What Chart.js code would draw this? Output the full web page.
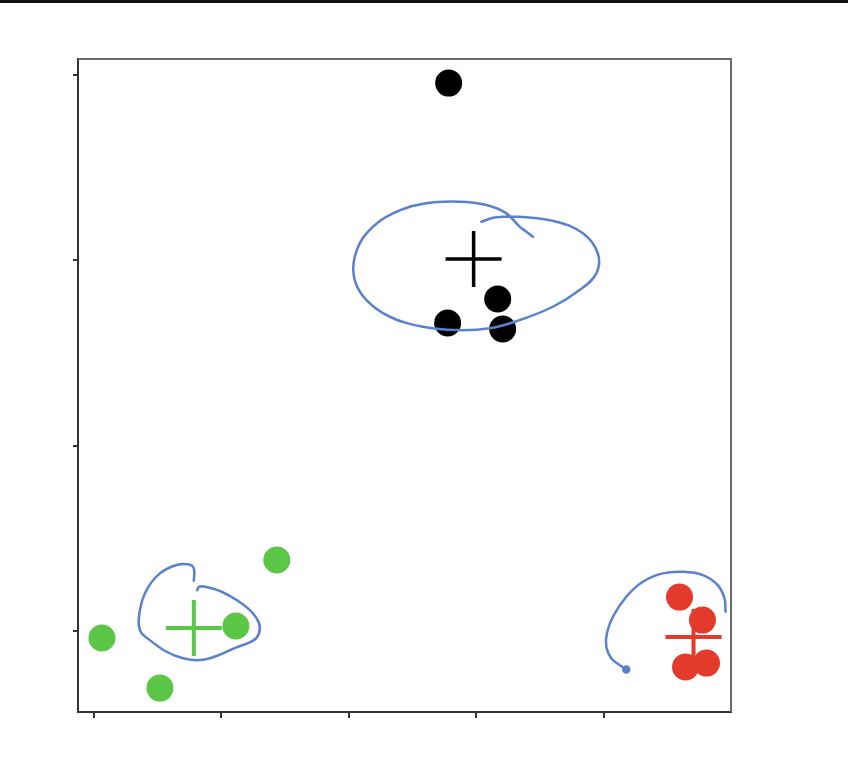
<!DOCTYPE html>
<html>
<head>
<meta charset="utf-8">
<script src="https://cdn.jsdelivr.net/npm/chart.js@4/dist/chart.umd.min.js"></script>
<style>
  html, body { margin: 0; padding: 0; background: #fff; }
  #wrap { position: relative; width: 848px; height: 774px; }
  #topbar { position: absolute; left: 0; top: 0; width: 848px; height: 3px; background: #111; }
  canvas { position: absolute; left: 0; top: 0; }
</style>
</head>
<body>
<div id="wrap">
  <canvas id="c" width="848" height="774"></canvas>
  <div id="topbar"></div>
</div>
<script>
// ---- data ----
const xTicks = [0, 1, 2, 3, 4];
const yTicks = [0, 1, 2, 3];

const blackX = [2.784, 3.169, 2.776, 3.208];
const blackY = [2.957, 1.792, 1.662, 1.630];
const greenX = [0.063, 0.518, 1.114, 1.435];
const greenY = [-0.038, -0.308, 0.027, 0.383];
const redX = [4.596, 4.776, 4.643, 4.808];
const redY = [0.183, 0.059, -0.194, -0.173];

const centroidX = [2.980, 0.784, 4.706];
const centroidY = [2.008, 0.016, -0.032];

// hand-drawn annotation strokes (data coordinates)
const loopBlackX = [3.041, 3.158, 3.394, 3.629, 3.838, 3.955, 3.943, 3.812, 3.602, 3.341, 3.106, 2.845, 2.583, 2.322, 2.139, 2.047, 2.047, 2.139, 2.347, 2.609, 2.871, 3.080, 3.237, 3.341, 3.394, 3.446];
const loopBlackY = [2.209, 2.233, 2.233, 2.209, 2.146, 2.038, 1.930, 1.840, 1.750, 1.678, 1.634, 1.624, 1.642, 1.696, 1.786, 1.894, 2.020, 2.146, 2.254, 2.308, 2.317, 2.299, 2.254, 2.182, 2.155, 2.128];
const loopGreenX = [0.784, 0.784, 0.740, 0.649, 0.518, 0.413, 0.361, 0.361, 0.439, 0.570, 0.700, 0.831, 0.962, 1.119, 1.249, 1.296, 1.296, 1.237, 1.132, 1.002, 0.871, 0.826, 0.810];
const loopGreenY = [0.271, 0.338, 0.360, 0.356, 0.311, 0.221, 0.113, 0.005, -0.049, -0.112, -0.147, -0.157, -0.135, -0.088, -0.052, -0.012, 0.042, 0.104, 0.162, 0.212, 0.239, 0.239, 0.221];
const arcRedX = [4.178, 4.125, 4.060, 4.021, 4.026, 4.073, 4.178, 4.308, 4.465, 4.622, 4.779, 4.896, 4.949, 4.957];
const arcRedY = [-0.207, -0.183, -0.147, -0.085, -0.012, 0.077, 0.185, 0.266, 0.311, 0.320, 0.302, 0.248, 0.176, 0.104];

const xMin = -0.125, xMax = 5.0;
const yMin = -0.437, yMax = 3.087;

// ---- colours ----
const BLACK = '#000000';
const GREEN = '#5cc646';
const RED = '#e43a2b';
const BLUE = '#5b80cc';

function pts(xs, ys) { return xs.map((x, i) => ({ x: x, y: ys[i] })); }

const pointSet = (xs, ys, color) => ({
  type: 'scatter', data: pts(xs, ys), order: 2,
  pointRadius: 13.5, pointHoverRadius: 13.5,
  backgroundColor: color, borderColor: color, borderWidth: 0, showLine: false
});
const centroidSet = (i, color, w) => ({
  type: 'scatter', data: [{ x: centroidX[i], y: centroidY[i] }], order: 1,
  pointStyle: 'cross', pointRadius: 28, pointHoverRadius: 28,
  borderColor: color, backgroundColor: color, pointBorderWidth: w, borderWidth: w, showLine: false
});
const strokeSet = (xs, ys, radii) => ({
  type: 'scatter', data: pts(xs, ys), order: 0, showLine: true,
  borderColor: BLUE, backgroundColor: BLUE, borderWidth: 2.5, tension: 0.4,
  pointRadius: radii || 0, pointHoverRadius: 0, fill: false, borderCapStyle: 'round', borderJoinStyle: 'round'
});

const frame = {
  id: 'frame',
  afterDatasetsDraw(chart) {
    const a = chart.chartArea, ctx = chart.ctx;
    ctx.save();
    ctx.strokeStyle = '#6a6a6a';
    ctx.lineWidth = 2;
    ctx.beginPath();
    ctx.moveTo(a.left, a.top);
    ctx.lineTo(a.right, a.top);
    ctx.lineTo(a.right, a.bottom);
    ctx.stroke();
    ctx.restore();
  }
};

new Chart(document.getElementById('c'), {
  type: 'scatter',
  data: {
    datasets: [
      strokeSet(loopBlackX, loopBlackY),
      strokeSet(loopGreenX, loopGreenY),
      strokeSet(arcRedX, arcRedY, arcRedX.map((v, i) => i === 0 ? 3 : 0)),
      centroidSet(0, BLACK, 3.5),
      centroidSet(1, GREEN, 4),
      centroidSet(2, RED, 4),
      pointSet(blackX, blackY, BLACK),
      pointSet(greenX, greenY, GREEN),
      pointSet(redX, redY, RED)
    ]
  },
  options: {
    responsive: false,
    animation: false,
    events: [],
    clip: false,
    layout: { padding: { left: 0, top: 59, right: 117, bottom: 0 } },
    plugins: { legend: { display: false }, tooltip: { enabled: false } },
    scales: {
      x: {
        type: 'linear', min: xMin, max: xMax,
        afterBuildTicks: s => { s.ticks = xTicks.map(v => ({ value: v })); },
        afterFit: s => { s.height = 62; },
        ticks: { display: false },
        grid: { display: true, drawOnChartArea: false, drawTicks: true, tickLength: 6, color: '#333', lineWidth: 2 },
        border: { display: true, color: '#333', width: 2 }
      },
      y: {
        type: 'linear', min: yMin, max: yMax,
        afterBuildTicks: s => { s.ticks = yTicks.map(v => ({ value: v })); },
        afterFit: s => { s.width = 78; },
        ticks: { display: false },
        grid: { display: true, drawOnChartArea: false, drawTicks: true, tickLength: 5, color: '#333', lineWidth: 2 },
        border: { display: true, color: '#333', width: 2 }
      }
    }
  },
  plugins: [frame]
});
</script>
</body>
</html>
